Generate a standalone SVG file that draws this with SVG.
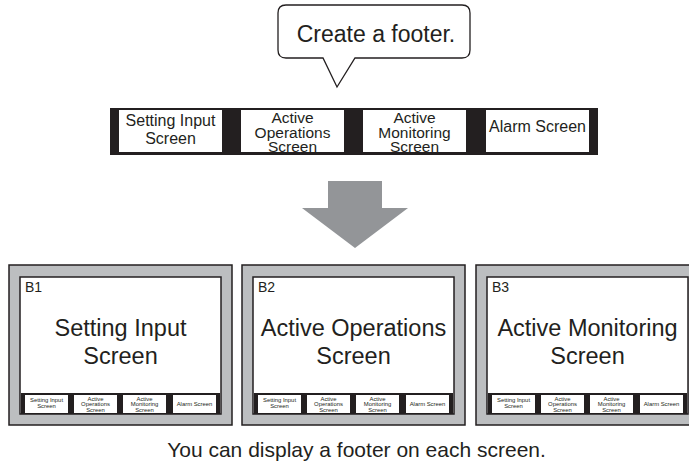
<svg xmlns="http://www.w3.org/2000/svg" width="689" height="464" viewBox="0 0 689 464">
<style>
text{font-family:"Liberation Sans",Arial,sans-serif;fill:#231f20;text-anchor:middle}
.bar{fill:#231f20}
.wbox{fill:#ffffff}
.t16{font-size:16px}
.t15{font-size:15.5px}
.t6{font-size:5.9px}
.frame{fill:#bcbec0;stroke:#231f20;stroke-width:1.5}
.disp{fill:#ffffff;stroke:#231f20;stroke-width:1.5}
.big{font-size:23.5px}
.lbl{font-size:14px;text-anchor:start}
</style>
<rect width="689" height="464" fill="#ffffff"/>

<g id="callout">
<path d="M286,5 H462 Q470,5 470,13 V50 Q470,58 462,58 H355 L337,87 L323,58 H286 Q278,58 278,50 V13 Q278,5 286,5 Z" fill="#ffffff" stroke="#231f20" stroke-width="1.3"/>
<text x="376" y="42" style="font-size:23px">Create a footer.</text>
</g>

<g id="footer-template">
<rect class="bar" x="110" y="108" width="488" height="47"/>
<rect class="wbox" x="119" y="110" width="103" height="42"/>
<rect class="wbox" x="241" y="110" width="103" height="42"/>
<rect class="wbox" x="363" y="110" width="103" height="42"/>
<rect class="wbox" x="486" y="110" width="103" height="42"/>
<text class="t16" x="170.5" y="126">Setting Input</text>
<text class="t16" x="170.5" y="144">Screen</text>
<text class="t15" x="292.5" y="123">Active</text>
<text class="t15" x="292.5" y="137.5">Operations</text>
<text class="t15" x="292.5" y="152">Screen</text>
<text class="t15" x="414.5" y="123">Active</text>
<text class="t15" x="414.5" y="137.5">Monitoring</text>
<text class="t15" x="414.5" y="152">Screen</text>
<text class="t16" x="537.5" y="132">Alarm Screen</text>
</g>

<g id="connectors">
<polygon points="328,181 382,181 382,208 408,208 355,248 302,208 328,208" fill="#939598"/>
</g>

<g id="screen-B1">
<rect class="frame" x="9" y="265" width="223" height="160"/>
<rect class="disp" x="20" y="277" width="201" height="137"/>
<text class="lbl" x="25" y="292">B1</text>
<text class="big" x="120.5" y="336">Setting Input</text>
<text class="big" x="120.5" y="364">Screen</text>
<rect class="bar" x="21" y="393" width="199" height="21"/>
<rect class="wbox" x="25" y="395" width="43" height="18"/>
<rect class="wbox" x="74" y="395" width="43" height="18"/>
<rect class="wbox" x="123" y="395" width="43" height="18"/>
<rect class="wbox" x="173" y="395" width="43" height="18"/>
<text class="t6" x="46.5" y="402.3">Setting Input</text>
<text class="t6" x="46.5" y="407.7">Screen</text>
<text class="t6" x="95.5" y="400.7">Active</text>
<text class="t6" x="95.5" y="406">Operations</text>
<text class="t6" x="95.5" y="411.5">Screen</text>
<text class="t6" x="144.5" y="400.7">Active</text>
<text class="t6" x="144.5" y="406">Monitoring</text>
<text class="t6" x="144.5" y="411.5">Screen</text>
<text class="t6" x="194.5" y="405.7">Alarm Screen</text>
</g>

<g id="screen-B2">
<rect class="frame" x="242" y="265" width="223" height="160"/>
<rect class="disp" x="253" y="277" width="201" height="137"/>
<text class="lbl" x="258" y="292">B2</text>
<text class="big" x="353.5" y="336">Active Operations</text>
<text class="big" x="353.5" y="364">Screen</text>
<rect class="bar" x="254" y="393" width="199" height="21"/>
<rect class="wbox" x="258" y="395" width="43" height="18"/>
<rect class="wbox" x="307" y="395" width="43" height="18"/>
<rect class="wbox" x="356" y="395" width="43" height="18"/>
<rect class="wbox" x="406" y="395" width="43" height="18"/>
<text class="t6" x="279.5" y="402.3">Setting Input</text>
<text class="t6" x="279.5" y="407.7">Screen</text>
<text class="t6" x="328.5" y="400.7">Active</text>
<text class="t6" x="328.5" y="406">Operations</text>
<text class="t6" x="328.5" y="411.5">Screen</text>
<text class="t6" x="377.5" y="400.7">Active</text>
<text class="t6" x="377.5" y="406">Monitoring</text>
<text class="t6" x="377.5" y="411.5">Screen</text>
<text class="t6" x="427.5" y="405.7">Alarm Screen</text>
</g>

<g id="screen-B3">
<rect class="frame" x="476" y="265" width="223" height="160"/>
<rect class="disp" x="487" y="277" width="201" height="137"/>
<text class="lbl" x="492" y="292">B3</text>
<text class="big" x="587.5" y="336">Active Monitoring</text>
<text class="big" x="587.5" y="364">Screen</text>
<rect class="bar" x="488" y="393" width="199" height="21"/>
<rect class="wbox" x="492" y="395" width="43" height="18"/>
<rect class="wbox" x="541" y="395" width="43" height="18"/>
<rect class="wbox" x="590" y="395" width="43" height="18"/>
<rect class="wbox" x="640" y="395" width="43" height="18"/>
<text class="t6" x="513.5" y="402.3">Setting Input</text>
<text class="t6" x="513.5" y="407.7">Screen</text>
<text class="t6" x="562.5" y="400.7">Active</text>
<text class="t6" x="562.5" y="406">Operations</text>
<text class="t6" x="562.5" y="411.5">Screen</text>
<text class="t6" x="611.5" y="400.7">Active</text>
<text class="t6" x="611.5" y="406">Monitoring</text>
<text class="t6" x="611.5" y="411.5">Screen</text>
<text class="t6" x="661.5" y="405.7">Alarm Screen</text>
</g>

<g id="caption">
<text x="356.5" y="457" style="font-size:21px">You can display a footer on each screen.</text>
</g>
</svg>
